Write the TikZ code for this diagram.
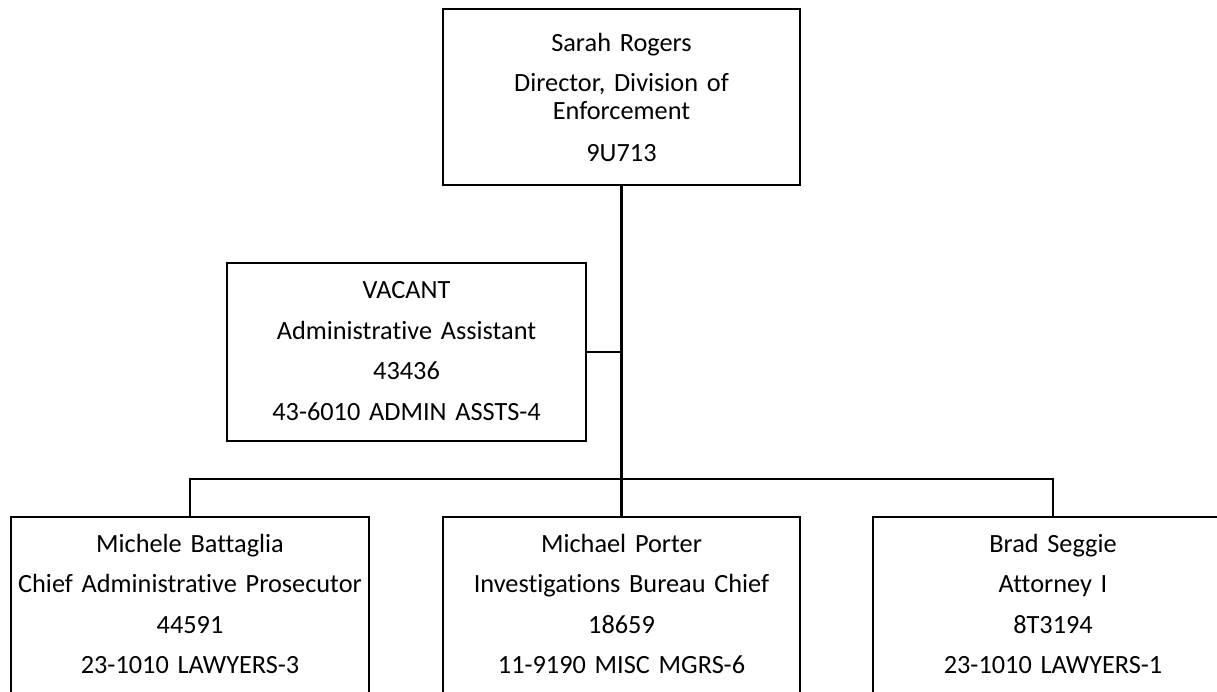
\documentclass[tikz,border=0pt]{standalone}
\usepackage{fontspec}
\setmainfont[Ligatures=NoCommon, WordSpace=0.9]{Carlito}
\begin{document}
\begin{tikzpicture}[x=1pt,y=-1pt,
  box/.style={draw=black, line width=2.6pt, fill=white, inner sep=0pt},
  txt/.style={inner sep=0pt, align=center, text width=#1, anchor=base,
    font=\fontsize{26.3}{28}\selectfont},
  link/.style={draw=black, line width=2.6pt}]
  \useasboundingbox (0,0) rectangle (1217,692);
  \clip (0,0) rectangle (1217,692);

  % position boxes
  \node[box, minimum width=357pt, minimum height=176pt] (dir) at (621.5,97) {};
  \node[box, minimum width=359pt, minimum height=178pt] (vac) at (406.5,352) {};
  \node[box, minimum width=358pt, minimum height=220pt] (bat) at (190,627) {};
  \node[box, minimum width=357pt, minimum height=220pt] (por) at (621.5,627) {};
  \node[box, minimum width=360pt, minimum height=220pt] (seg) at (1053,627) {};

  % texts
  \node[txt=350pt] (dirtxt) at (621.5,52)
    {Sarah Rogers\\[12pt]Director, Division of\\Enforcement\\[14pt]9U713};
  \node[txt=350pt] (vactxt) at (406.5,299)
    {VACANT\\[12.5pt]Administrative Assistant\\[12.5pt]43436\\[12.5pt]43-6010 ADMIN ASSTS-4};
  \node[txt=356pt] (battxt) at (190,552)
    {Michele Battaglia\\[12.5pt]Chief Administrative Prosecutor\\[12.5pt]44591\\[12.5pt]23-1010 LAWYERS-3};
  \node[txt=350pt] (portxt) at (621.5,552)
    {Michael Porter\\[12.5pt]Investigations Bureau Chief\\[12.5pt]18659\\[12.5pt]11-9190 MISC MGRS-6};
  \node[txt=350pt] (segtxt) at (1053,552)
    {Brad Seggie\\[12.5pt]Attorney I\\[12.5pt]8T3194\\[12.5pt]23-1010 LAWYERS-1};

  % connectors
  \coordinate (bus) at (621.5,479);
  \draw[link] (dir.south) -- (bus);
  \draw[link] (vac.east) -- (vac.east -| bus);
  \draw[link] (bat.north) |- (bus) -| (seg.north);
  \draw[link] (bus) -- (por.north);
\end{tikzpicture}
\end{document}
